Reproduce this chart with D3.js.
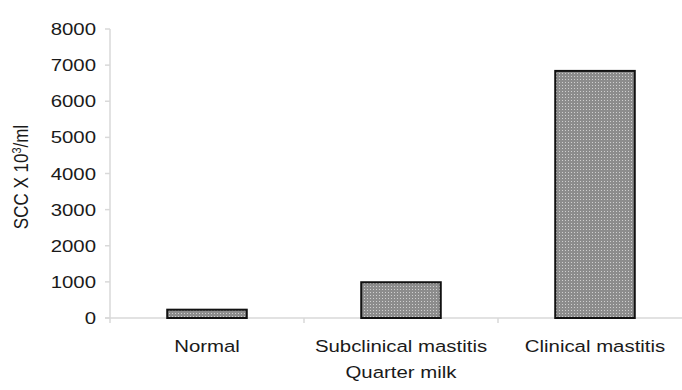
<!DOCTYPE html>
<html><head><meta charset="utf-8">
<script src="https://cdn.jsdelivr.net/npm/d3@7/dist/d3.min.js"></script>
<style>body{margin:0;background:#fff}text{font-family:"Liberation Sans",Arial,sans-serif;fill:#1a1a1a}</style>
</head><body><svg id="c" width="682" height="390"></svg>
<script>
const categories = ["Normal", "Subclinical mastitis", "Clinical mastitis"];
const values = [230, 990, 6840];
const yTicks = [0, 1000, 2000, 3000, 4000, 5000, 6000, 7000, 8000];
const xTitle = "Quarter milk";

const svg = d3.select("#c");
const SX = 1.2, FS = 17;
const x = d3.scaleBand().domain(categories).range([110, 692]).paddingInner(0.59).paddingOuter(0.295);
const y = d3.scaleLinear().domain([0, 8000]).range([318, 29]);

const defs = svg.append("defs");
const pat = defs.append("pattern").attr("id", "dots").attr("patternUnits", "userSpaceOnUse").attr("width", 3).attr("height", 3);
pat.append("rect").attr("width", 3).attr("height", 3).attr("fill", "#8c8c8c");
pat.append("rect").attr("x", 1).attr("y", 1).attr("width", 1).attr("height", 1).attr("fill", "#cfcfcf");

const grey = "#d9d9d9";
// y axis line
svg.append("line").attr("x1", 110).attr("x2", 110).attr("y1", y(8000)).attr("y2", 323).attr("stroke", grey).attr("stroke-width", 1.5);
// x axis line
svg.append("line").attr("x1", 105).attr("x2", 682).attr("y1", y(0)).attr("y2", y(0)).attr("stroke", grey).attr("stroke-width", 1.5);
// y ticks
yTicks.forEach(t => {
  svg.append("line").attr("x1", 105).attr("x2", 110).attr("y1", y(t)).attr("y2", y(t)).attr("stroke", grey).attr("stroke-width", 1.5);
  svg.append("g").attr("transform", `translate(96,${y(t) + 6}) scale(${SX},1)`)
    .append("text").attr("text-anchor", "end").attr("font-size", FS).text(t);
});
// x ticks at band boundaries
const step = x.step();
for (let i = 1; i <= categories.length; i++) {
  const bx = 110 + i * step;
  svg.append("line").attr("x1", bx).attr("x2", bx).attr("y1", y(0)).attr("y2", 323).attr("stroke", grey).attr("stroke-width", 1.5);
}
// bars
svg.selectAll(".bar").data(categories).enter().append("rect")
  .attr("x", d => x(d)).attr("width", x.bandwidth())
  .attr("y", (d, i) => y(values[i])).attr("height", (d, i) => y(0) - y(values[i]))
  .attr("fill", "url(#dots)").attr("stroke", "#111").attr("stroke-width", 2);
// category labels
categories.forEach(c => {
  svg.append("g").attr("transform", `translate(${x(c) + x.bandwidth() / 2},352) scale(${SX},1)`)
    .append("text").attr("text-anchor", "middle").attr("font-size", FS).text(c);
});
// x title
svg.append("g").attr("transform", `translate(401,378) scale(${SX},1)`)
  .append("text").attr("text-anchor", "middle").attr("font-size", FS).text(xTitle);
// y title
const yt = svg.append("g").attr("transform", `translate(28,177) rotate(-90) scale(1,${SX})`)
  .append("text").attr("text-anchor", "middle").attr("font-size", FS);
yt.append("tspan").text("SCC X 10");
yt.append("tspan").attr("font-size", 11).attr("dy", -6).text("3");
yt.append("tspan").attr("dy", 6).text("/ml");
</script></body></html>
